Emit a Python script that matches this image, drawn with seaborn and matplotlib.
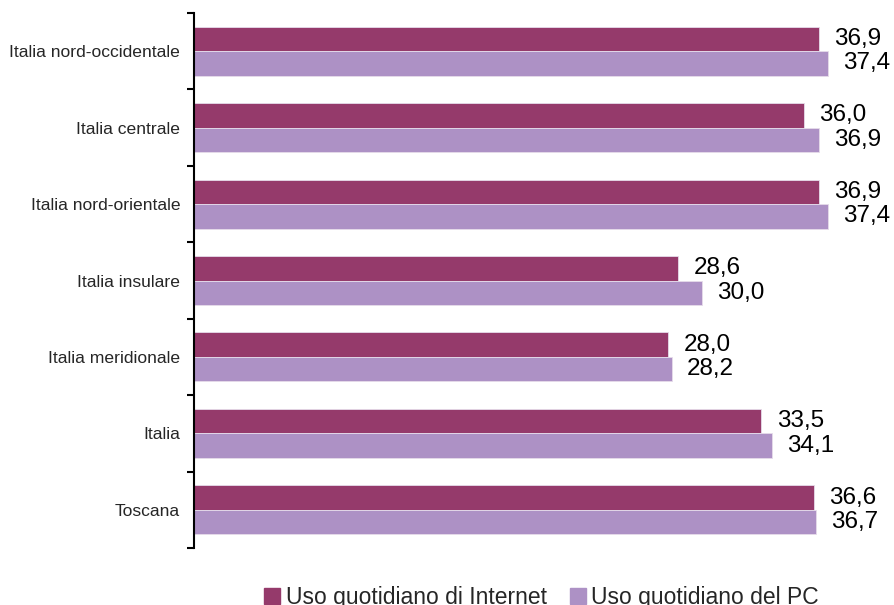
import matplotlib
matplotlib.use('Agg')
import matplotlib.pyplot as plt
import numpy as np
import pandas as pd
import seaborn as sns

# data
regions = ['Italia nord-occidentale', 'Italia centrale', 'Italia nord-orientale',
           'Italia insulare', 'Italia meridionale', 'Italia', 'Toscana']
internet = [36.9, 36.0, 36.9, 28.6, 28.0, 33.5, 36.6]
pc = [37.4, 36.9, 37.4, 30.0, 28.2, 34.1, 36.7]
series = ['Uso quotidiano di Internet', 'Uso quotidiano del PC']
colors = ['#953a6b', '#ad91c5']

df = pd.DataFrame({
    'Regione': regions * 2,
    'Valore': internet + pc,
    'Serie': [series[0]] * len(regions) + [series[1]] * len(regions),
})

sns.set_style('white')
plt.rcParams['font.family'] = ['Liberation Sans', 'DejaVu Sans']

fig = plt.figure(figsize=(8.95, 6.05), dpi=100)
ax = fig.add_axes([0.2168, 0.0942, 0.757, 0.8843])

sns.barplot(data=df, x='Valore', y='Regione', hue='Serie', order=regions,
            hue_order=series, palette=colors, saturation=1, orient='h',
            width=0.64, edgecolor='#e6dcea', linewidth=0.6, legend=False, ax=ax)

for cont in ax.containers:
    labels = ['{:.1f}'.format(v).replace('.', ',') for v in cont.datavalues]
    ax.bar_label(cont, labels=labels, padding=11, fontsize=17.5, color='black')

ax.set_xlim(0, 40)
ax.set_ylim(len(regions) - 0.5, -0.5)
ax.set_xlabel('')
ax.set_ylabel('')
ax.set_xticks([])

# ticks sit between categories
ax.set_yticks(np.arange(len(regions)))
ax.set_yticklabels(regions, fontsize=12.6)
ax.set_yticks(np.arange(-0.5, len(regions)), minor=True)
ax.tick_params(axis='y', which='major', length=0, pad=10)
ax.tick_params(axis='y', which='minor', length=5, width=1.5, color='black', left=True)

for s in ['top', 'right', 'bottom']:
    ax.spines[s].set_visible(False)
ax.spines['left'].set_color('black')
ax.spines['left'].set_linewidth(1.5)

handles = [plt.Rectangle((0, 0), 1, 1, color=c) for c in colors]
fig.legend(handles, series, loc='center', bbox_to_anchor=(0.605, 0.013), ncol=2,
           frameon=False, fontsize=16.5, handlelength=0.7, handleheight=0.7,
           handletextpad=0.25, columnspacing=1.0)

fig.savefig('out.png', dpi=100)
